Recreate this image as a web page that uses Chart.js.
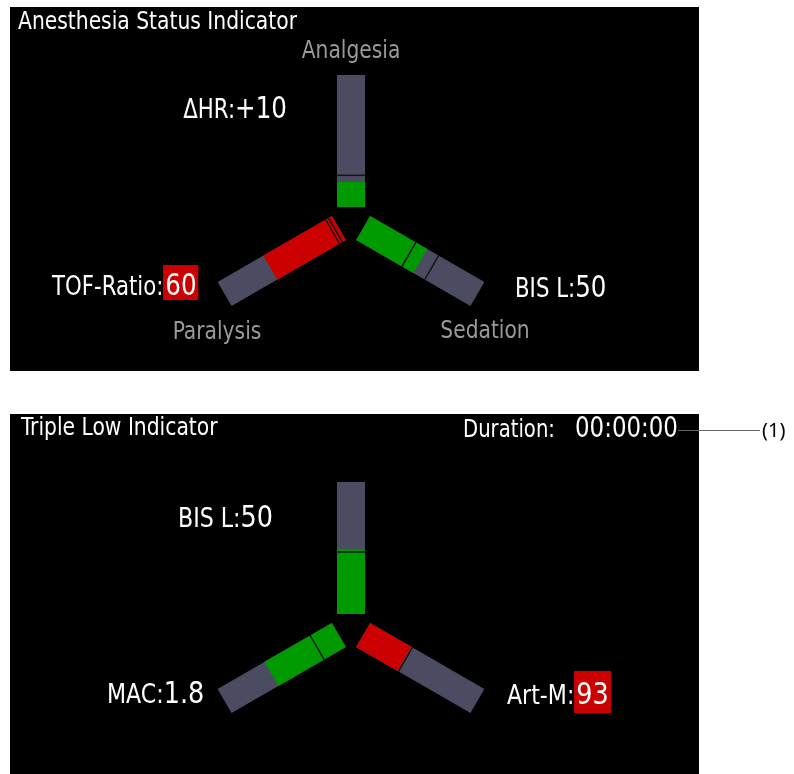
<!DOCTYPE html>
<html lang="en">
<head>
<meta charset="UTF-8">
<title>Anesthesia Status Indicator / Triple Low Indicator</title>
<script src="https://cdn.jsdelivr.net/npm/chart.js"></script>
<style>
  body {
    margin: 0;
    width: 794px;
    height: 774px;
    overflow: hidden;
    position: relative;
    background: #fff;
    font-family: 'Liberation Sans Narrow', 'DejaVu Sans Condensed', 'Liberation Sans', sans-serif;
  }
  .panel { position: absolute; left: 10px; width: 689px; background: #000; }
  #p1 { top: 7px; height: 364px; }
  #p2 { top: 414px; height: 360px; }
  .panel canvas { position: absolute; left: 0; top: 0; }
  .t {
    position: absolute; color: #fff; white-space: nowrap; line-height: 1;
    transform-origin: left top; transform: scaleX(0.91);
  }
  .title { font-size: 24px; transform: scaleX(0.94); }
  .name { color: #9a9a9a; font-size: 25px; transform-origin: 50% 50%; transform: translateX(-50%) scaleX(0.9); }
  .ro { font-size: 30px; line-height: 30px; }
  .ro .lb { font-size: 26px; }
  .wide { transform: scaleX(0.945); }
  .alarm { display: inline-block; background: #cc0000; line-height: 1; padding: 0 2px; }
  .callout { position: absolute; left: 678px; top: 430px; width: 82px; border-top: 1.5px solid #666; }
  .ref { position: absolute; left: 762px; top: 416px; font-family: 'Noto Sans', sans-serif; font-size: 20px; color: #000; }
</style>
</head>
<body>
  <div class="panel" id="p1"><canvas id="asiChart"></canvas></div>
  <div class="panel" id="p2"><canvas id="tliChart"></canvas></div>

  <!-- panel 1 -->
  <div class="t title" style="left:18px;top:9px">Anesthesia Status Indicator</div>
  <div class="t name" style="left:351px;top:37px">Analgesia</div>
  <div class="t name" style="left:217px;top:318px">Paralysis</div>
  <div class="t name" style="left:485px;top:317px">Sedation</div>
  <div class="t ro" style="right:507px;top:93px;transform-origin:right top"><span class="lb">ΔHR:</span>+10</div>
  <div class="t ro" style="left:52px;top:265px"><span class="lb">TOF-Ratio:</span><span class="alarm" style="padding-top:5px">60</span></div>
  <div class="t ro" style="left:515px;top:272px"><span class="lb">BIS L:</span>50</div>

  <!-- panel 2 -->
  <div class="t title" style="left:21px;top:415px">Triple Low Indicator</div>
  <div class="t" style="left:463px;top:414px;font-size:28px;line-height:28px"><span style="font-size:24px">Duration:</span><span style="margin-left:22px">00:00:00</span></div>
  <div class="callout"></div>
  <div class="ref">(1)</div>
  <div class="t ro wide" style="left:178px;top:502px"><span class="lb">BIS L:</span>50</div>
  <div class="t ro wide" style="left:107px;top:678px"><span class="lb">MAC:</span>1.8</div>
  <div class="t ro wide" style="left:507px;top:671px"><span class="lb">Art-M:</span><span class="alarm" style="padding-top:8px;padding-bottom:4px">93</span></div>

<script>
// Anesthesia Status Indicator: fill level of each arm (0-100 along the arm)
const asiArms = ['Analgesia', 'Sedation', 'Paralysis'];
const asiFill = [19, 50, 60];
const asiAlarm = [false, false, true];
const asiMarks = [[24], [40, 60], [3, 5.5]];

// Triple Low Indicator
const tliArms = ['BIS', 'MAC', 'Art-M'];
const tliFill = [49, 59, 36];
const tliAlarm = [false, false, true];
const tliMarks = [[47], [19], [37]];

// arm directions (degrees, y up): up, lower right, lower left
const asiAngles = [90, -30, 210];
const tliAngles = [90, 210, -30];

const R0 = 14, LEN = 132, ARM_W = 28;
const GRAY = '#4b4b61', GREEN = '#009900', RED = '#cc0000', MARK = '#141414';

function pt(angle, v) {
  const a = angle * Math.PI / 180;
  const r = R0 + LEN * v / 100;
  return { x: r * Math.cos(a), y: r * Math.sin(a) };
}

function seg(angle, from, to, color, order) {
  return {
    data: [pt(angle, from), pt(angle, to)],
    showLine: true,
    borderColor: color,
    borderWidth: ARM_W,
    borderCapStyle: 'butt',
    pointRadius: 0,
    order: order
  };
}

function buildDatasets(arms, fill, alarm, marks, angles) {
  const ds = [];
  arms.forEach((name, i) => {
    ds.push(seg(angles[i], 0, 100, GRAY, 3));
    ds.push(seg(angles[i], 0, fill[i], alarm[i] ? RED : GREEN, 2));
    marks[i].forEach(m => ds.push(seg(angles[i], m - 0.55, m + 0.55, MARK, 1)));
  });
  return ds;
}

function makeChart(id, datasets, yMin) {
  new Chart(document.getElementById(id), {
    type: 'scatter',
    data: { datasets: datasets },
    options: {
      responsive: true,
      maintainAspectRatio: false,
      animation: false,
      layout: { padding: 0 },
      plugins: { legend: { display: false }, tooltip: { enabled: false } },
      scales: {
        x: { type: 'linear', min: -341, max: 348, display: false },
        y: { type: 'linear', min: yMin, max: 214, display: false }
      }
    }
  });
}

makeChart('asiChart', buildDatasets(asiArms, asiFill, asiAlarm, asiMarks, asiAngles), -150);
makeChart('tliChart', buildDatasets(tliArms, tliFill, tliAlarm, tliMarks, tliAngles), -146);
</script>
</body>
</html>
